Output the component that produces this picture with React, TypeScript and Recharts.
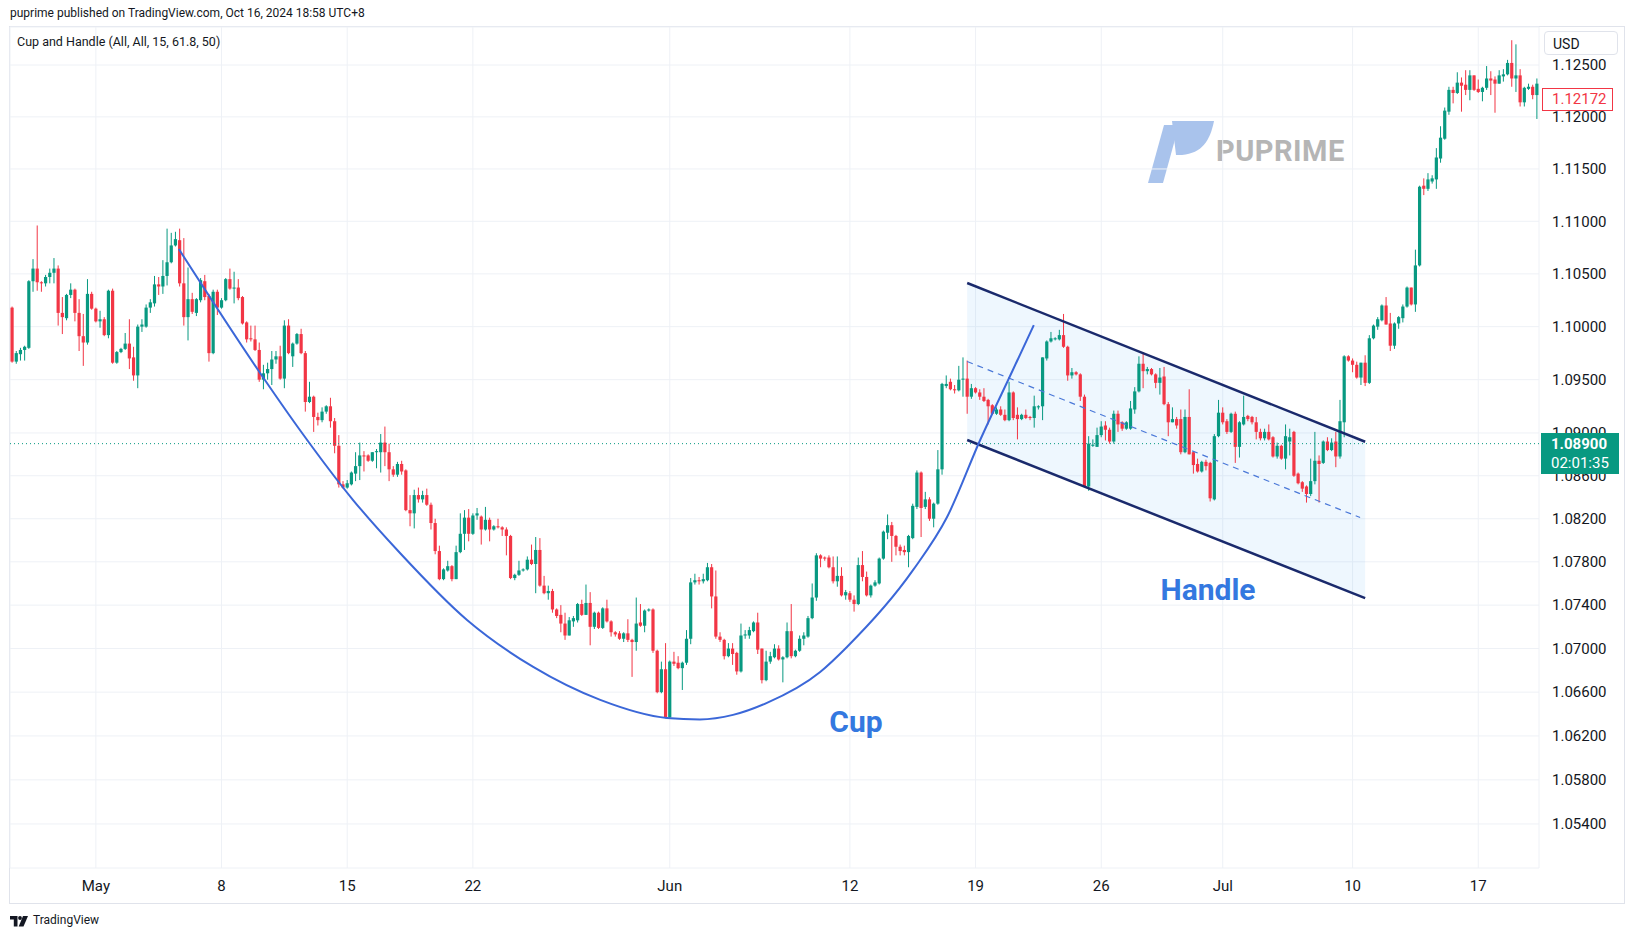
import React from "react";
import { ComposedChart, Bar, Line, Area, XAxis, YAxis, CartesianGrid, ReferenceLine } from "recharts";

// EURUSD 4h candles, index 0 = late Apr 2023
const opens = [
  1.1018, 1.0967, 1.0974, 1.0978, 1.0980, 1.1043, 1.1055, 1.1042, 1.1041, 1.1047,
  1.1051, 1.1055, 1.1013, 1.1008, 1.1030, 1.1035, 1.1013, 1.0991, 1.0985, 1.1031,
  1.1017, 1.1005, 1.1007, 1.0992, 1.1034, 1.0966, 1.0976, 1.0979, 1.0984, 1.0971,
  1.0954, 1.1000, 1.1000, 1.1018, 1.1022, 1.1040, 1.1038, 1.1048, 1.1061, 1.1077,
  1.1082, 1.1041, 1.1009, 1.1026, 1.1013, 1.1025, 1.1043, 1.1029, 1.0975, 1.1033,
  1.1018, 1.1025, 1.1045, 1.1036, 1.1037, 1.1028, 1.1004, 1.0989, 1.0988, 1.0978,
  1.0950, 1.0956, 1.0960, 1.0969, 1.0972, 1.0951, 1.1001, 1.0972, 1.0984, 1.0993,
  1.0975, 1.0929, 1.0934, 1.0915, 1.0912, 1.0920, 1.0925, 1.0911, 1.0888, 1.0852,
  1.0849, 1.0852, 1.0862, 1.0869, 1.0879, 1.0879, 1.0874, 1.0882, 1.0882, 1.0891,
  1.0882, 1.0866, 1.0861, 1.0871, 1.0865, 1.0828, 1.0825, 1.0842, 1.0838, 1.0842,
  1.0833, 1.0816, 1.0790, 1.0764, 1.0772, 1.0776, 1.0764, 1.0789, 1.0806, 1.0821,
  1.0806, 1.0823, 1.0822, 1.0810, 1.0819, 1.0810, 1.0813, 1.0812, 1.0810, 1.0804,
  1.0765, 1.0768, 1.0772, 1.0773, 1.0782, 1.0778, 1.0791, 1.0758, 1.0751, 1.0753,
  1.0736, 1.0731, 1.0723, 1.0712, 1.0725, 1.0726, 1.0741, 1.0731, 1.0742, 1.0720,
  1.0733, 1.0719, 1.0737, 1.0725, 1.0715, 1.0714, 1.0709, 1.0714, 1.0708, 1.0706,
  1.0724, 1.0721, 1.0735, 1.0736, 1.0698, 1.0660, 1.0681, 1.0637, 1.0688, 1.0687,
  1.0682, 1.0687, 1.0709, 1.0761, 1.0763, 1.0762, 1.0763, 1.0775, 1.0748, 1.0711,
  1.0708, 1.0693, 1.0700, 1.0696, 1.0679, 1.0712, 1.0712, 1.0716, 1.0724, 1.0700,
  1.0671, 1.0688, 1.0692, 1.0700, 1.0690, 1.0692, 1.0716, 1.0693, 1.0698, 1.0709,
  1.0711, 1.0728, 1.0747, 1.0786, 1.0784, 1.0784, 1.0775, 1.0762, 1.0767, 1.0749,
  1.0751, 1.0745, 1.0741, 1.0777, 1.0766, 1.0749, 1.0758, 1.0760, 1.0783, 1.0807,
  1.0814, 1.0804, 1.0794, 1.0791, 1.0789, 1.0802, 1.0831, 1.0863, 1.0831, 1.0838,
  1.0820, 1.0834, 1.0866, 1.0944, 1.0948, 1.0941, 1.0940, 1.0950, 1.0951, 1.0934,
  1.0942, 1.0938, 1.0934, 1.0931, 1.0926, 1.0918, 1.0922, 1.0917, 1.0912, 1.0938,
  1.0917, 1.0913, 1.0917, 1.0915, 1.0914, 1.0924, 1.0925, 1.0970, 1.0986, 1.0988,
  1.0988, 1.0992, 1.0981, 1.0954, 1.0957, 1.0955, 1.0934, 1.0850, 1.0888, 1.0887,
  1.0898, 1.0907, 1.0903, 1.0892, 1.0918, 1.0910, 1.0904, 1.0904, 1.0922, 1.0939,
  1.0965, 1.0958, 1.0960, 1.0955, 1.0947, 1.0953, 1.0927, 1.0910, 1.0913, 1.0913,
  1.0882, 1.0915, 1.0882, 1.0871, 1.0864, 1.0873, 1.0872, 1.0838, 1.0897, 1.0919,
  1.0911, 1.0901, 1.0918, 1.0887, 1.0908, 1.0916, 1.0915, 1.0910, 1.0901, 1.0895,
  1.0901, 1.0896, 1.0878, 1.0888, 1.0876, 1.0892, 1.0901, 1.0862, 1.0854, 1.0850,
  1.0843, 1.0855, 1.0874, 1.0872, 1.0892, 1.0884, 1.0892, 1.0878, 1.0910, 1.0972,
  1.0968, 1.0964, 1.0952, 1.0966, 1.0947, 1.0989, 1.1000, 1.1006, 1.1020, 1.1003,
  1.0982, 1.1003, 1.1008, 1.1019, 1.1037, 1.1021, 1.1058, 1.1134, 1.1131, 1.1138,
  1.1140, 1.1160, 1.1179, 1.1205, 1.1226, 1.1223, 1.1233, 1.1231, 1.1226, 1.1240,
  1.1227, 1.1224, 1.1228, 1.1237, 1.1236, 1.1232, 1.1239, 1.1241, 1.1252, 1.1237,
  1.1240, 1.1214, 1.1227, 1.1229, 1.1221,
];

const highs = [
  1.1019, 1.0977, 1.0980, 1.0982, 1.1044, 1.1064, 1.1096, 1.1043, 1.1049, 1.1055,
  1.1065, 1.1058, 1.1028, 1.1031, 1.1041, 1.1036, 1.1026, 1.1012, 1.1045, 1.1033,
  1.1018, 1.1015, 1.1009, 1.1035, 1.1036, 1.0977, 1.0980, 1.0994, 1.1007, 1.0981,
  1.1002, 1.1007, 1.1021, 1.1026, 1.1048, 1.1047, 1.1063, 1.1093, 1.1089, 1.1090,
  1.1093, 1.1084, 1.1056, 1.1032, 1.1027, 1.1046, 1.1049, 1.1031, 1.1035, 1.1035,
  1.1027, 1.1046, 1.1055, 1.1052, 1.1045, 1.1029, 1.1005, 1.1001, 1.1001, 1.0985,
  1.0964, 1.0966, 1.0977, 1.0977, 1.0982, 1.1006, 1.1007, 1.0985, 1.0994, 1.0998,
  1.0977, 1.0948, 1.0935, 1.0919, 1.0924, 1.0926, 1.0933, 1.0914, 1.0898, 1.0855,
  1.0856, 1.0864, 1.0882, 1.0891, 1.0883, 1.0880, 1.0882, 1.0885, 1.0899, 1.0906,
  1.0890, 1.0869, 1.0873, 1.0874, 1.0866, 1.0842, 1.0847, 1.0849, 1.0846, 1.0848,
  1.0835, 1.0820, 1.0795, 1.0774, 1.0781, 1.0777, 1.0795, 1.0825, 1.0828, 1.0829,
  1.0825, 1.0830, 1.0823, 1.0831, 1.0821, 1.0814, 1.0820, 1.0813, 1.0812, 1.0805,
  1.0769, 1.0781, 1.0774, 1.0785, 1.0796, 1.0803, 1.0802, 1.0767, 1.0758, 1.0755,
  1.0737, 1.0740, 1.0733, 1.0729, 1.0730, 1.0742, 1.0745, 1.0759, 1.0752, 1.0734,
  1.0734, 1.0738, 1.0745, 1.0726, 1.0716, 1.0716, 1.0715, 1.0727, 1.0709, 1.0747,
  1.0741, 1.0736, 1.0737, 1.0737, 1.0699, 1.0688, 1.0705, 1.0689, 1.0697, 1.0693,
  1.0688, 1.0717, 1.0765, 1.0769, 1.0766, 1.0769, 1.0779, 1.0778, 1.0772, 1.0715,
  1.0709, 1.0705, 1.0705, 1.0697, 1.0723, 1.0717, 1.0720, 1.0725, 1.0733, 1.0700,
  1.0698, 1.0697, 1.0704, 1.0703, 1.0693, 1.0724, 1.0741, 1.0699, 1.0712, 1.0715,
  1.0730, 1.0760, 1.0788, 1.0787, 1.0785, 1.0786, 1.0785, 1.0785, 1.0775, 1.0754,
  1.0753, 1.0749, 1.0784, 1.0790, 1.0771, 1.0759, 1.0763, 1.0784, 1.0809, 1.0824,
  1.0817, 1.0805, 1.0796, 1.0795, 1.0805, 1.0834, 1.0865, 1.0864, 1.0845, 1.0840,
  1.0835, 1.0884, 1.0947, 1.0954, 1.0951, 1.0945, 1.0963, 1.0971, 1.0968, 1.0946,
  1.0943, 1.0941, 1.0942, 1.0932, 1.0927, 1.0924, 1.0925, 1.0922, 1.0948, 1.0939,
  1.0924, 1.0918, 1.0922, 1.0916, 1.0935, 1.0926, 1.0971, 1.0987, 1.0995, 1.0990,
  1.0997, 1.1012, 1.0982, 1.0961, 1.0958, 1.0956, 1.0936, 1.0897, 1.0894, 1.0905,
  1.0911, 1.0911, 1.0905, 1.0921, 1.0921, 1.0911, 1.0911, 1.0930, 1.0943, 1.0972,
  1.0976, 1.0962, 1.0961, 1.0956, 1.0961, 1.0962, 1.0929, 1.0924, 1.0915, 1.0922,
  1.0922, 1.0941, 1.0883, 1.0876, 1.0874, 1.0875, 1.0873, 1.0899, 1.0931, 1.0924,
  1.0913, 1.0919, 1.0920, 1.0911, 1.0935, 1.0917, 1.0916, 1.0915, 1.0904, 1.0904,
  1.0908, 1.0897, 1.0891, 1.0889, 1.0908, 1.0904, 1.0902, 1.0863, 1.0855, 1.0851,
  1.0876, 1.0901, 1.0879, 1.0893, 1.0896, 1.0895, 1.0901, 1.0931, 1.0973, 1.0973,
  1.0970, 1.0967, 1.0966, 1.0973, 1.0992, 1.1002, 1.1009, 1.1021, 1.1028, 1.1013,
  1.1004, 1.1010, 1.1021, 1.1038, 1.1037, 1.1073, 1.1134, 1.1141, 1.1146, 1.1144,
  1.1170, 1.1191, 1.1209, 1.1229, 1.1229, 1.1243, 1.1238, 1.1245, 1.1245, 1.1240,
  1.1236, 1.1229, 1.1249, 1.1244, 1.1239, 1.1245, 1.1246, 1.1255, 1.1274, 1.1270,
  1.1246, 1.1229, 1.1232, 1.1231, 1.1237,
];

const lows = [
  1.0966, 1.0965, 1.0968, 1.0968, 1.0979, 1.1033, 1.1034, 1.1033, 1.1038, 1.1041,
  1.1041, 1.1001, 1.0993, 1.1006, 1.1027, 1.1005, 1.0977, 1.0963, 1.0983, 1.1016,
  1.1004, 1.0999, 1.0991, 1.0989, 1.0965, 1.0965, 1.0975, 1.0978, 1.0960, 1.0949,
  1.0942, 1.0995, 1.0999, 1.1013, 1.1019, 1.1030, 1.1031, 1.1039, 1.1060, 1.1076,
  1.1038, 1.1001, 1.0987, 1.1012, 1.1010, 1.1023, 1.1025, 1.0967, 1.0974, 1.1011,
  1.1017, 1.1024, 1.1035, 1.1022, 1.1025, 1.1002, 1.0985, 1.0986, 1.0977, 1.0948,
  1.0941, 1.0950, 1.0945, 1.0965, 1.0950, 1.0942, 1.0974, 1.0962, 1.0983, 1.0974,
  1.0920, 1.0928, 1.0901, 1.0907, 1.0910, 1.0918, 1.0905, 1.0881, 1.0849, 1.0848,
  1.0848, 1.0851, 1.0855, 1.0856, 1.0864, 1.0873, 1.0873, 1.0867, 1.0863, 1.0869,
  1.0855, 1.0859, 1.0859, 1.0861, 1.0827, 1.0813, 1.0811, 1.0835, 1.0835, 1.0832,
  1.0810, 1.0787, 1.0763, 1.0763, 1.0771, 1.0762, 1.0764, 1.0788, 1.0791, 1.0799,
  1.0805, 1.0819, 1.0796, 1.0809, 1.0799, 1.0809, 1.0811, 1.0804, 1.0786, 1.0764,
  1.0763, 1.0767, 1.0771, 1.0772, 1.0777, 1.0751, 1.0757, 1.0750, 1.0745, 1.0733,
  1.0728, 1.0715, 1.0708, 1.0712, 1.0720, 1.0724, 1.0730, 1.0731, 1.0703, 1.0718,
  1.0718, 1.0718, 1.0724, 1.0711, 1.0711, 1.0708, 1.0706, 1.0706, 1.0674, 1.0698,
  1.0720, 1.0715, 1.0734, 1.0696, 1.0659, 1.0659, 1.0636, 1.0636, 1.0684, 1.0681,
  1.0662, 1.0685, 1.0704, 1.0759, 1.0759, 1.0760, 1.0762, 1.0737, 1.0709, 1.0706,
  1.0690, 1.0692, 1.0685, 1.0676, 1.0678, 1.0709, 1.0709, 1.0715, 1.0695, 1.0668,
  1.0670, 1.0686, 1.0691, 1.0689, 1.0669, 1.0691, 1.0691, 1.0692, 1.0697, 1.0703,
  1.0710, 1.0727, 1.0744, 1.0775, 1.0781, 1.0774, 1.0760, 1.0757, 1.0748, 1.0745,
  1.0743, 1.0734, 1.0740, 1.0762, 1.0748, 1.0747, 1.0757, 1.0759, 1.0782, 1.0801,
  1.0780, 1.0786, 1.0786, 1.0786, 1.0775, 1.0801, 1.0829, 1.0803, 1.0829, 1.0818,
  1.0812, 1.0833, 1.0861, 1.0942, 1.0940, 1.0937, 1.0939, 1.0934, 1.0918, 1.0932,
  1.0937, 1.0931, 1.0929, 1.0908, 1.0917, 1.0917, 1.0916, 1.0911, 1.0911, 1.0912,
  1.0894, 1.0912, 1.0913, 1.0912, 1.0905, 1.0922, 1.0912, 1.0968, 1.0985, 1.0987,
  1.0987, 1.0980, 1.0949, 1.0951, 1.0954, 1.0930, 1.0849, 1.0846, 1.0887, 1.0887,
  1.0896, 1.0893, 1.0890, 1.0890, 1.0901, 1.0902, 1.0903, 1.0903, 1.0918, 1.0938,
  1.0942, 1.0955, 1.0954, 1.0942, 1.0936, 1.0926, 1.0897, 1.0910, 1.0904, 1.0880,
  1.0881, 1.0880, 1.0862, 1.0863, 1.0863, 1.0865, 1.0836, 1.0837, 1.0896, 1.0908,
  1.0899, 1.0900, 1.0872, 1.0877, 1.0907, 1.0911, 1.0908, 1.0894, 1.0893, 1.0893,
  1.0893, 1.0877, 1.0876, 1.0875, 1.0866, 1.0879, 1.0859, 1.0852, 1.0845, 1.0835,
  1.0841, 1.0852, 1.0835, 1.0871, 1.0883, 1.0883, 1.0868, 1.0876, 1.0896, 1.0967,
  1.0957, 1.0951, 1.0945, 1.0944, 1.0946, 1.0988, 1.0997, 1.1005, 1.1002, 1.0977,
  1.0979, 1.0998, 1.1004, 1.1018, 1.1020, 1.1014, 1.1057, 1.1125, 1.1129, 1.1136,
  1.1131, 1.1156, 1.1178, 1.1202, 1.1213, 1.1222, 1.1205, 1.1221, 1.1216, 1.1225,
  1.1223, 1.1215, 1.1226, 1.1221, 1.1204, 1.1232, 1.1234, 1.1240, 1.1229, 1.1224,
  1.1210, 1.1210, 1.1226, 1.1217, 1.1198,
];

const closes = [
  1.0967, 1.0975, 1.0978, 1.0981, 1.1043, 1.1055, 1.1042, 1.1041, 1.1047, 1.1051,
  1.1055, 1.1013, 1.1009, 1.1030, 1.1035, 1.1013, 1.0991, 1.0985, 1.1031, 1.1017,
  1.1005, 1.1007, 1.0992, 1.1034, 1.0966, 1.0976, 1.0979, 1.0984, 1.0970, 1.0954,
  1.1000, 1.1002, 1.1018, 1.1023, 1.1040, 1.1038, 1.1048, 1.1061, 1.1077, 1.1083,
  1.1041, 1.1009, 1.1026, 1.1014, 1.1026, 1.1044, 1.1028, 1.0975, 1.1033, 1.1018,
  1.1025, 1.1045, 1.1036, 1.1037, 1.1027, 1.1003, 1.0988, 1.0988, 1.0978, 1.0950,
  1.0956, 1.0960, 1.0969, 1.0972, 1.0951, 1.1001, 1.0975, 1.0984, 1.0993, 1.0975,
  1.0929, 1.0934, 1.0915, 1.0912, 1.0920, 1.0925, 1.0911, 1.0888, 1.0852, 1.0849,
  1.0853, 1.0863, 1.0869, 1.0879, 1.0878, 1.0874, 1.0882, 1.0883, 1.0891, 1.0882,
  1.0866, 1.0861, 1.0871, 1.0864, 1.0828, 1.0825, 1.0842, 1.0838, 1.0842, 1.0833,
  1.0816, 1.0790, 1.0764, 1.0773, 1.0776, 1.0764, 1.0789, 1.0806, 1.0821, 1.0806,
  1.0823, 1.0825, 1.0810, 1.0819, 1.0810, 1.0813, 1.0812, 1.0810, 1.0804, 1.0765,
  1.0768, 1.0772, 1.0773, 1.0782, 1.0778, 1.0791, 1.0758, 1.0751, 1.0753, 1.0736,
  1.0730, 1.0723, 1.0712, 1.0726, 1.0728, 1.0741, 1.0731, 1.0742, 1.0720, 1.0733,
  1.0719, 1.0737, 1.0725, 1.0715, 1.0713, 1.0709, 1.0714, 1.0708, 1.0706, 1.0723,
  1.0721, 1.0735, 1.0736, 1.0698, 1.0660, 1.0681, 1.0637, 1.0688, 1.0686, 1.0682,
  1.0687, 1.0709, 1.0761, 1.0763, 1.0762, 1.0764, 1.0775, 1.0748, 1.0711, 1.0708,
  1.0693, 1.0700, 1.0695, 1.0679, 1.0712, 1.0713, 1.0717, 1.0724, 1.0699, 1.0671,
  1.0688, 1.0693, 1.0700, 1.0690, 1.0692, 1.0716, 1.0693, 1.0698, 1.0709, 1.0712,
  1.0728, 1.0747, 1.0786, 1.0783, 1.0783, 1.0775, 1.0762, 1.0767, 1.0749, 1.0752,
  1.0745, 1.0741, 1.0777, 1.0766, 1.0749, 1.0758, 1.0761, 1.0783, 1.0808, 1.0814,
  1.0804, 1.0794, 1.0790, 1.0789, 1.0804, 1.0832, 1.0863, 1.0830, 1.0838, 1.0820,
  1.0834, 1.0866, 1.0946, 1.0946, 1.0941, 1.0940, 1.0950, 1.0951, 1.0934, 1.0942,
  1.0938, 1.0934, 1.0930, 1.0925, 1.0918, 1.0922, 1.0917, 1.0912, 1.0938, 1.0914,
  1.0913, 1.0917, 1.0914, 1.0914, 1.0925, 1.0925, 1.0971, 1.0986, 1.0989, 1.0989,
  1.0992, 1.0981, 1.0954, 1.0957, 1.0955, 1.0934, 1.0850, 1.0890, 1.0889, 1.0898,
  1.0906, 1.0903, 1.0892, 1.0918, 1.0908, 1.0904, 1.0910, 1.0923, 1.0939, 1.0965,
  1.0958, 1.0960, 1.0955, 1.0947, 1.0952, 1.0927, 1.0910, 1.0913, 1.0907, 1.0882,
  1.0915, 1.0880, 1.0870, 1.0864, 1.0873, 1.0869, 1.0839, 1.0897, 1.0919, 1.0910,
  1.0901, 1.0918, 1.0887, 1.0910, 1.0915, 1.0913, 1.0910, 1.0901, 1.0895, 1.0901,
  1.0894, 1.0878, 1.0888, 1.0876, 1.0897, 1.0896, 1.0860, 1.0853, 1.0848, 1.0843,
  1.0855, 1.0874, 1.0871, 1.0892, 1.0884, 1.0891, 1.0878, 1.0911, 1.0972, 1.0968,
  1.0964, 1.0952, 1.0966, 1.0947, 1.0989, 1.1001, 1.1007, 1.1020, 1.1002, 1.0982,
  1.1003, 1.1009, 1.1019, 1.1037, 1.1021, 1.1058, 1.1133, 1.1131, 1.1140, 1.1141,
  1.1161, 1.1180, 1.1206, 1.1226, 1.1223, 1.1233, 1.1230, 1.1226, 1.1240, 1.1226,
  1.1224, 1.1228, 1.1237, 1.1235, 1.1232, 1.1240, 1.1241, 1.1252, 1.1237, 1.1240,
  1.1214, 1.1228, 1.1229, 1.1221, 1.1232,
];

// time axis labels (candle index where each label sits)
const tickIdx = [20, 50, 80, 110, 157, 200, 230, 260, 289, 320, 350];
const tickText = ["May", "8", "15", "22", "Jun", "12", "19", "26", "Jul", "10", "17"];
const priceTicks = [
  1.054, 1.058, 1.062, 1.066, 1.07, 1.074, 1.078, 1.082, 1.086, 1.09, 1.095, 1.1, 1.105, 1.11, 1.115, 1.12, 1.125,
];

// drawings
const cupIdx = [39.8, 59.2, 68.7, 81.4, 92.6, 108.6, 124.4, 140.4, 156.3, 164.2, 172.1, 180.2, 192.9, 199.3, 215.1, 223.2, 231.1, 238.9, 243.9];
const cupPrice = [1.10736, 1.09563, 1.09028, 1.08374, 1.07882, 1.07263, 1.06831, 1.06529, 1.06364, 1.06351, 1.06392, 1.06502, 1.06785, 1.07015, 1.07725, 1.08216, 1.08934, 1.09591, 1.10015];
const channelIdx = [228, 323];
const channelUpper = [1.10413, 1.08918];
const channelLower = [1.08934, 1.07464];
const midIdx = [228, 321.8];
const midPrice = [1.09671, 1.08211];
const markPrice = 1.089;
const lastPrice = "1.12172";
const countdown = "02:01:35";

const UP = "#089981";
const DOWN = "#f23645";
const FONT = 'Roboto, "Liberation Sans", sans-serif';

const candles = opens.map((o, i) => ({
  i,
  o,
  h: highs[i],
  l: lows[i],
  c: closes[i],
  range: [lows[i], highs[i]],
}));
const cupData = cupIdx.map((i, k) => ({ i, p: cupPrice[k] }));
const upperData = channelIdx.map((i, k) => ({ i, p: channelUpper[k] }));
const lowerData = channelIdx.map((i, k) => ({ i, p: channelLower[k] }));
const bandData = channelIdx.map((i, k) => ({ i, band: [channelLower[k], channelUpper[k]] }));
const midData = midIdx.map((i, k) => ({ i, p: midPrice[k] }));

const Candle = (props: any) => {
  const { x, y, width, height, payload } = props;
  if (!payload || x == null || y == null) return null;
  const { o, h, l, c } = payload;
  const top = Math.min(y, y + height);
  const bot = Math.max(y, y + height);
  const span = Math.log(h) - Math.log(l);
  const py = (p: number) => (span > 0 ? top + ((bot - top) * (Math.log(h) - Math.log(p))) / span : top);
  const cx = x + width / 2;
  const color = c >= o ? UP : DOWN;
  const yo = py(o);
  const yc = py(c);
  const bt = Math.min(yo, yc);
  const bh = Math.max(1, Math.abs(yo - yc));
  return (
    <g>
      <rect x={cx - 0.5} y={top} width={1} height={Math.max(1, bot - top)} fill={color} />
      <rect x={cx - 1.6} y={bt} width={3.2} height={bh} fill={color} />
    </g>
  );
};

const tickStyle = { fill: "#131722", fontSize: 15, fontFamily: FONT };

export default function App() {
  return (
    <div style={{ position: "absolute", left: 0, top: 0, width: 1634, height: 939, background: "#fff", overflow: "hidden", fontFamily: FONT, color: "#131722" }}>
      <div style={{ position: "absolute", left: 10, top: 6, fontSize: 12, whiteSpace: "nowrap" }}>
        puprime published on TradingView.com, Oct 16, 2024 18:58 UTC+8
      </div>
      {/* frame */}
      <div style={{ position: "absolute", left: 9, top: 26, width: 1614, height: 876, border: "1px solid #e0e3eb" }} />

      {/* watermark */}
      <svg style={{ position: "absolute", left: 1146, top: 119 }} width={70} height={66}>
        <path d="M2 64 L17 64 L33 6 L18 6 Z" fill="#a9c3ec" />
        <path d="M26 2 L68 2 C64 22 56 34 36 36 L30 36 Z" fill="#a9c3ec" />
      </svg>
      <div style={{ position: "absolute", left: 1216, top: 134, fontSize: 29, fontWeight: 700, color: "#b5b5b5", letterSpacing: 0.5 }}>PUPRIME</div>

      <div style={{ position: "absolute", left: 0, top: 0 }}>
        <ComposedChart width={1634} height={939} data={candles} margin={{ top: 27, right: 10, bottom: 41, left: 10 }}>
          <CartesianGrid stroke="#eef1f6" />
          <XAxis
            dataKey="i"
            type="number"
            domain={[-0.5, 364.5]}
            allowDataOverflow
            ticks={tickIdx}
            interval={0}
            tickFormatter={(v: number) => tickText[tickIdx.indexOf(v)] ?? ""}
            axisLine={false}
            tickLine={false}
            tickSize={0}
            tickMargin={12}
            height={30}
            tick={tickStyle}
          />
          <YAxis
            orientation="right"
            type="number"
            scale="log"
            domain={[1.05002, 1.12868]}
            allowDataOverflow
            ticks={priceTicks}
            interval={0}
            tickFormatter={(v: number) => v.toFixed(5)}
            axisLine={false}
            tickLine={false}
            tickSize={0}
            tickMargin={13}
            width={85}
            tick={tickStyle}
          />
          <Area data={bandData} dataKey="band" type="linear" fill="#2196f3" fillOpacity={0.08} stroke="none" isAnimationActive={false} />
          <ReferenceLine y={markPrice} stroke={UP} strokeDasharray="1 3" />
          <Bar dataKey="range" barSize={4} shape={<Candle />} isAnimationActive={false} />
          <Line data={midData} dataKey="p" type="linear" stroke="#4a78d8" strokeWidth={1.2} strokeDasharray="6 5" dot={false} isAnimationActive={false} />
          <Line data={upperData} dataKey="p" type="linear" stroke="#1a2a6c" strokeWidth={2.5} dot={false} isAnimationActive={false} />
          <Line data={lowerData} dataKey="p" type="linear" stroke="#1a2a6c" strokeWidth={2.5} dot={false} isAnimationActive={false} />
          <Line data={cupData} dataKey="p" type="monotone" stroke="#3b67d8" strokeWidth={2} dot={false} isAnimationActive={false} />
        </ComposedChart>
      </div>

      <div style={{ position: "absolute", left: 17, top: 34, fontSize: 12.5, whiteSpace: "nowrap" }}>
        Cup and Handle (All, All, 15, 61.8, 50)
      </div>

      <div style={{ position: "absolute", left: 856, top: 721, transform: "translate(-50%,-50%)", fontSize: 30, fontWeight: 700, color: "#3478e0" }}>Cup</div>
      <div style={{ position: "absolute", left: 1208, top: 589, transform: "translate(-50%,-50%)", fontSize: 30, fontWeight: 700, color: "#3478e0" }}>Handle</div>

      {/* price scale labels */}
      <div style={{ position: "absolute", left: 1544, top: 31, width: 74, height: 24, border: "1px solid #e0e3eb", borderRadius: 4, background: "#fff", fontSize: 14, lineHeight: "24px", paddingLeft: 8, boxSizing: "border-box" }}>USD</div>
      <div style={{ position: "absolute", left: 1542, top: 88, width: 71, height: 23, border: "1px solid #f23645", background: "#fff", color: "#f23645", fontSize: 15, lineHeight: "21px", paddingLeft: 9, boxSizing: "border-box" }}>{lastPrice}</div>
      <div style={{ position: "absolute", left: 1541, top: 433, width: 78, height: 41, background: UP, color: "#fff", fontSize: 15, boxSizing: "border-box", paddingLeft: 10, paddingTop: 2 }}>
        <div style={{ fontWeight: 700, lineHeight: "19px" }}>{markPrice.toFixed(5)}</div>
        <div style={{ lineHeight: "19px" }}>{countdown}</div>
      </div>

      {/* footer logo */}
      <svg style={{ position: "absolute", left: 10, top: 916 }} width={18} height={11}>
        <path d="M0 0 H7.5 V10.5 H3.8 V3.6 H0 Z" fill="#131722" />
        <circle cx={10} cy={2} r={1.9} fill="#131722" />
        <path d="M13 0 H18 L13.5 10.5 H8.7 Z" fill="#131722" />
      </svg>
      <div style={{ position: "absolute", left: 33, top: 913, fontSize: 12, whiteSpace: "nowrap" }}>TradingView</div>
    </div>
  );
}
